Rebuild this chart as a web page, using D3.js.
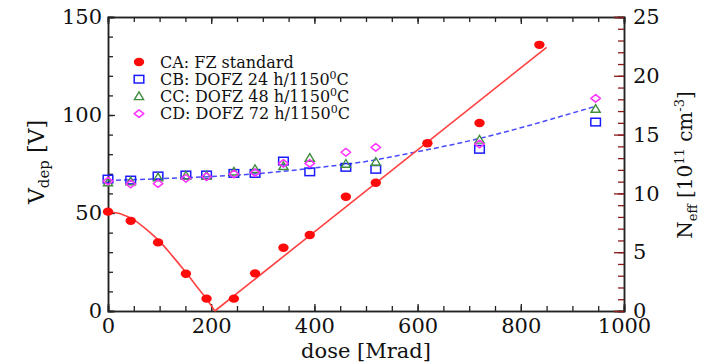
<!DOCTYPE html>
<html>
<head>
<meta charset="utf-8">
<script src="https://cdn.jsdelivr.net/npm/d3@7"></script>
<style>
  html, body { margin: 0; padding: 0; background: #fff; }
  svg { display: block; }
  text { font-family: "DejaVu Serif", "Liberation Serif", serif; fill: #111; }
</style>
</head>
<body>
<svg id="chart" width="703" height="364"></svg>
<script>
// Depletion voltage vs. dose for standard and oxygenated silicon
const doseCA = [0, 44, 97, 151, 191, 244, 285, 340, 391, 461, 519, 619, 720, 836];
const vCA    = [50.7, 46, 35, 19, 6.3, 6.3, 19.2, 32.3, 38.8, 58.3, 65.4, 85.6, 95.9, 135.8];

const doseDOFZ = [0, 44, 97, 151, 191, 244, 285, 340, 391, 461, 519, 720, 945];
const vCB = [67.3, 66.8, 68.9, 69.4, 69.4, 70.2, 70.2, 76.5, 71, 73.3, 72.3, 82.5, 96.4];
const vCC = [65.5, 66, 68, 69, 69, 71, 72.3, 73.8, 78, 75, 76, 87.3, 103];
const vCD = [66.3, 64.8, 65, 67.7, 68.5, 69.9, 70.6, 75.3, 75.3, 81, 83.5, 85.2, 108.5];

// Fitted curves
const fitCALowDose = [0, 25, 50, 75, 100, 125, 150, 175, 190, 207];
const fitCALowV    = [50.6, 49.5, 46.5, 41.5, 35.5, 28, 20, 11.5, 6.5, 0];
const fitCAHighDose = [207, 850];
const fitCAHighV    = [0, 134.5];
const fitDOFZDose = [0, 100, 200, 300, 400, 500, 600, 700, 800, 900, 947];
const fitDOFZV    = [66.6, 67.5, 68.6, 70.3, 73, 76.3, 81.3, 86.8, 93.5, 101, 104.6];

// Axis ticks
const xMajorTicks = [0, 200, 400, 600, 800, 1000];
const yMajorTicks = [0, 50, 100, 150];
const yRightMajorTicks = [0, 5, 10, 15, 20, 25];

const svg = d3.select("#chart");
const L = 108, R = 624, T = 17, B = 311;

const x = d3.scaleLinear().domain([0, 1000]).range([L, R]);
const y = d3.scaleLinear().domain([0, 150]).range([B, T]);
const yR = d3.scaleLinear().domain([0, 25]).range([B, T]);

const axisColor = "#222";
const tickFont = 21;

function styleAxis(g, color) {
  g.select(".domain").attr("stroke", axisColor).attr("stroke-width", 1.5);
  g.selectAll(".tick line").attr("stroke", color || axisColor).attr("stroke-width", 1.3);
  g.selectAll(".tick text").attr("font-size", tickFont).attr("font-family", "DejaVu Serif").attr("fill", "#111");
}

// Minor ticks (no labels)
const xMinor = d3.range(0, 1001, 50);
const yMinor = d3.range(0, 151, 10);
const yRMinor = d3.range(0, 26, 1);

// Bottom axis
svg.append("g").attr("transform", `translate(0,${B})`)
  .call(d3.axisBottom(x).tickValues(xMinor).tickSize(-5).tickFormat(""))
  .call(g => styleAxis(g));
svg.append("g").attr("transform", `translate(0,${B})`)
  .call(d3.axisBottom(x).tickValues(xMajorTicks).tickSize(-7).tickPadding(7).tickFormat(d3.format("d")))
  .call(g => styleAxis(g))
  .call(g => g.selectAll(".tick text").attr("dy", "0.71em"));

// Top axis
svg.append("g").attr("transform", `translate(0,${T})`)
  .call(d3.axisTop(x).tickValues(xMinor).tickSize(-5).tickFormat(""))
  .call(g => styleAxis(g));
svg.append("g").attr("transform", `translate(0,${T})`)
  .call(d3.axisTop(x).tickValues(xMajorTicks).tickSize(-7).tickFormat(""))
  .call(g => styleAxis(g));

// Left axis
svg.append("g").attr("transform", `translate(${L},0)`)
  .call(d3.axisLeft(y).tickValues(yMinor).tickSize(-5).tickFormat(""))
  .call(g => styleAxis(g));
svg.append("g").attr("transform", `translate(${L},0)`)
  .call(d3.axisLeft(y).tickValues(yMajorTicks).tickSize(-7).tickPadding(6).tickFormat(d3.format("d")))
  .call(g => styleAxis(g));

// Right axis (N_eff), ticks in dark red
const tickRed = "#8b1a1a";
svg.append("g").attr("transform", `translate(${R},0)`)
  .call(d3.axisRight(yR).tickValues(yRMinor).tickSize(-6).tickFormat(""))
  .call(g => styleAxis(g, tickRed));
svg.append("g").attr("transform", `translate(${R},0)`)
  .call(d3.axisRight(yR).tickValues(yRightMajorTicks).tickSize(-10).tickPadding(9).tickFormat(d3.format("d")))
  .call(g => styleAxis(g, tickRed));

// Fit lines
const fitLine = d3.line().x(d => x(d[0])).y(d => y(d[1]));
const curveLine = d3.line().x(d => x(d[0])).y(d => y(d[1])).curve(d3.curveMonotoneX);

svg.append("path")
  .datum(fitDOFZDose.map((d, i) => [d, fitDOFZV[i]]))
  .attr("d", curveLine)
  .attr("fill", "none").attr("stroke", "#4a4aff").attr("stroke-width", 1.5)
  .attr("stroke-dasharray", "5,3");

svg.append("path")
  .datum(fitCALowDose.map((d, i) => [d, fitCALowV[i]]))
  .attr("d", curveLine)
  .attr("fill", "none").attr("stroke", "#ff4040").attr("stroke-width", 1.6);
svg.append("path")
  .datum(fitCAHighDose.map((d, i) => [d, fitCAHighV[i]]))
  .attr("d", fitLine)
  .attr("fill", "none").attr("stroke", "#ff4040").attr("stroke-width", 1.6);

// Marker shapes
const blue = "#1a1aff", green = "#3f8f3f", magenta = "#ff33ff", red = "#ff0a0a";

function square(g, cx, cy) {
  g.append("rect").attr("x", cx - 4.8).attr("y", cy - 3.8).attr("width", 9.6).attr("height", 7.6)
    .attr("fill", "none").attr("stroke", blue).attr("stroke-width", 1.5);
}
function triangle(g, cx, cy) {
  g.append("path").attr("d", `M${cx},${cy - 4.5}L${cx + 4.6},${cy + 3.2}L${cx - 4.6},${cy + 3.2}Z`)
    .attr("fill", "none").attr("stroke", green).attr("stroke-width", 1.4);
}
function diamond(g, cx, cy) {
  g.append("path").attr("d", `M${cx},${cy - 3.8}L${cx + 4.8},${cy}L${cx},${cy + 3.8}L${cx - 4.8},${cy}Z`)
    .attr("fill", "none").attr("stroke", magenta).attr("stroke-width", 1.5).attr("stroke-linejoin", "round");
}
function dot(g, cx, cy) {
  g.append("ellipse").attr("cx", cx).attr("cy", cy).attr("rx", 5.2).attr("ry", 4.2).attr("fill", red);
}

const marks = svg.append("g");
doseDOFZ.forEach((d, i) => square(marks, x(d), y(vCB[i])));
doseDOFZ.forEach((d, i) => triangle(marks, x(d), y(vCC[i])));
doseDOFZ.forEach((d, i) => diamond(marks, x(d), y(vCD[i])));
doseCA.forEach((d, i) => dot(marks, x(d), y(vCA[i])));

// Legend
const legendItems = [
  { draw: dot, label: "CA: FZ standard", sup: null },
  { draw: square, label: "CB: DOFZ 24 h/1150", sup: "0", tail: "C" },
  { draw: triangle, label: "CC: DOFZ 48 h/1150", sup: "0", tail: "C" },
  { draw: diamond, label: "CD: DOFZ 72 h/1150", sup: "0", tail: "C" }
];
const legend = svg.append("g");
legendItems.forEach((it, i) => {
  const cy = 62 + i * 17.2;
  it.draw(legend, 139, cy);
  const t = legend.append("text").attr("x", 160).attr("y", cy + 5.5).attr("font-size", 16);
  t.append("tspan").text(it.label);
  if (it.sup) {
    t.append("tspan").attr("font-size", 11).attr("dy", -6).text(it.sup);
    t.append("tspan").attr("dy", 6).text(it.tail);
  }
});

// Axis titles
svg.append("text").attr("x", (L + R) / 2).attr("y", 358).attr("text-anchor", "middle")
  .attr("font-size", 21).text("dose [Mrad]");

const yTitle = svg.append("text").attr("transform", "translate(44,162) rotate(-90)")
  .attr("text-anchor", "middle").attr("font-size", 22);
yTitle.append("tspan").text("V");
yTitle.append("tspan").attr("font-size", 15).attr("dy", 5).text("dep");
yTitle.append("tspan").attr("dy", -5).text(" [V]");

const yRTitle = svg.append("text").attr("transform", "translate(692,165) rotate(-90)")
  .attr("text-anchor", "middle").attr("font-size", 20);
yRTitle.append("tspan").text("N");
yRTitle.append("tspan").attr("font-size", 13).attr("dy", 5).text("eff");
yRTitle.append("tspan").attr("dy", -5).text(" [10");
yRTitle.append("tspan").attr("font-size", 13).attr("dy", -8).text("11");
yRTitle.append("tspan").attr("dy", 8).text(" cm");
yRTitle.append("tspan").attr("font-size", 13).attr("dy", -8).text("-3");
yRTitle.append("tspan").attr("dy", 8).text("]");
</script>
</body>
</html>
